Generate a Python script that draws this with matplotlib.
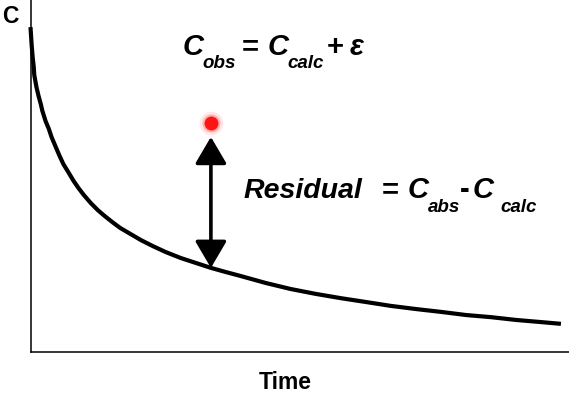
import matplotlib
matplotlib.use("Agg")
import matplotlib.pyplot as plt
from matplotlib.patches import FancyArrowPatch, ArrowStyle

# concentration-time curve (arbitrary units, axes 0-10)
time = [0.00, 0.02, 0.04, 0.06, 0.07, 0.11, 0.15, 0.19, 0.22, 0.28, 0.34,
        0.39, 0.47, 0.54, 0.61, 0.71, 0.80, 0.89, 0.99, 1.12, 1.25, 1.38,
        1.52, 1.67, 1.86, 2.05, 2.27, 2.51, 2.79, 3.07, 3.35, 3.63, 3.90,
        4.37, 4.83, 5.30, 5.76, 6.23, 6.69, 7.16, 7.62, 8.09, 8.55, 9.02,
        9.48, 9.85]
conc = [9.23, 8.75, 8.38, 8.10, 7.87, 7.53, 7.27, 7.05, 6.85, 6.56, 6.34,
        6.11, 5.82, 5.57, 5.34, 5.09, 4.86, 4.66, 4.46, 4.23, 4.03, 3.86,
        3.69, 3.52, 3.35, 3.18, 3.01, 2.84, 2.67, 2.53, 2.39, 2.27, 2.16,
        1.96, 1.79, 1.65, 1.53, 1.42, 1.31, 1.22, 1.14, 1.05, 0.99, 0.91,
        0.85, 0.80]

# one observed point and the calculated value at the same time
obs_time = 3.35
obs_conc = 6.51
arrow_top = 6.11
calc_conc = 2.39

W, H = 569, 400
plt.rcParams["font.family"] = ["Liberation Sans", "DejaVu Sans"]

fig = plt.figure(figsize=(W / 100, H / 100), dpi=100)
ax = fig.add_axes([30.5 / W, 48 / H, 538.5 / W, 352 / H])
ax.set_xlim(0, 10)
ax.set_ylim(0, 10)
for s in ("top", "right"):
    ax.spines[s].set_visible(False)
for s in ("left", "bottom"):
    ax.spines[s].set_linewidth(1.1)
ax.set_xticks([])
ax.set_yticks([])

ax.plot(time, conc, color="black", lw=3, solid_capstyle="butt",
        solid_joinstyle="round", clip_on=False)

# red observed point with a soft glow
ax.plot(obs_time, obs_conc, "o", ms=17, color="#ff4040", alpha=0.12, mec="none")
ax.plot(obs_time, obs_conc, "o", ms=13, color="#ff3030", alpha=0.3, mec="none")
ax.plot(obs_time, obs_conc, "o", ms=10, color="#ff1414", mec="none")

style = ArrowStyle("<|-|>", head_length=16.5, head_width=9.7)
ax.add_patch(FancyArrowPatch((obs_time, arrow_top), (obs_time, calc_conc),
                             arrowstyle=style, mutation_scale=1, lw=2.6,
                             color="black", shrinkA=0, shrinkB=0))


def put(x, y, s, size, style="italic", weight="bold"):
    fig.text(x / W, 1 - y / H, s, fontsize=size, fontstyle=style,
             fontweight=weight, ha="left", va="baseline")


# axis labels
fig.text(2 / W, 1 - 23 / H, "C", fontsize=16.5, fontweight="bold",
         ha="left", va="baseline")
fig.text(285 / W, 1 - 389 / H, "Time", fontsize=16.5, fontweight="bold",
         ha="center", va="baseline")

# C_obs = C_calc + eps
put(183, 55, "C", 21)
put(202, 68, "obs", 13.5)
put(242, 55, "=", 21, style="normal")
put(268, 55, "C", 21)
put(287, 68, "calc", 13.5)
put(327, 55, "+", 21, style="normal")
put(350, 55, "\u03b5", 21)

# Residual = C_abs - C_calc
put(244, 198, "Residual", 20.5)
put(382, 198, "=", 21, style="normal")
put(408, 198, "C", 21)
put(428, 212, "abs", 13.5)
put(460, 198, "-", 21, style="normal")
put(473, 198, "C", 21)
put(500, 212, "calc", 13.5)

fig.savefig("out.png", dpi=100)
